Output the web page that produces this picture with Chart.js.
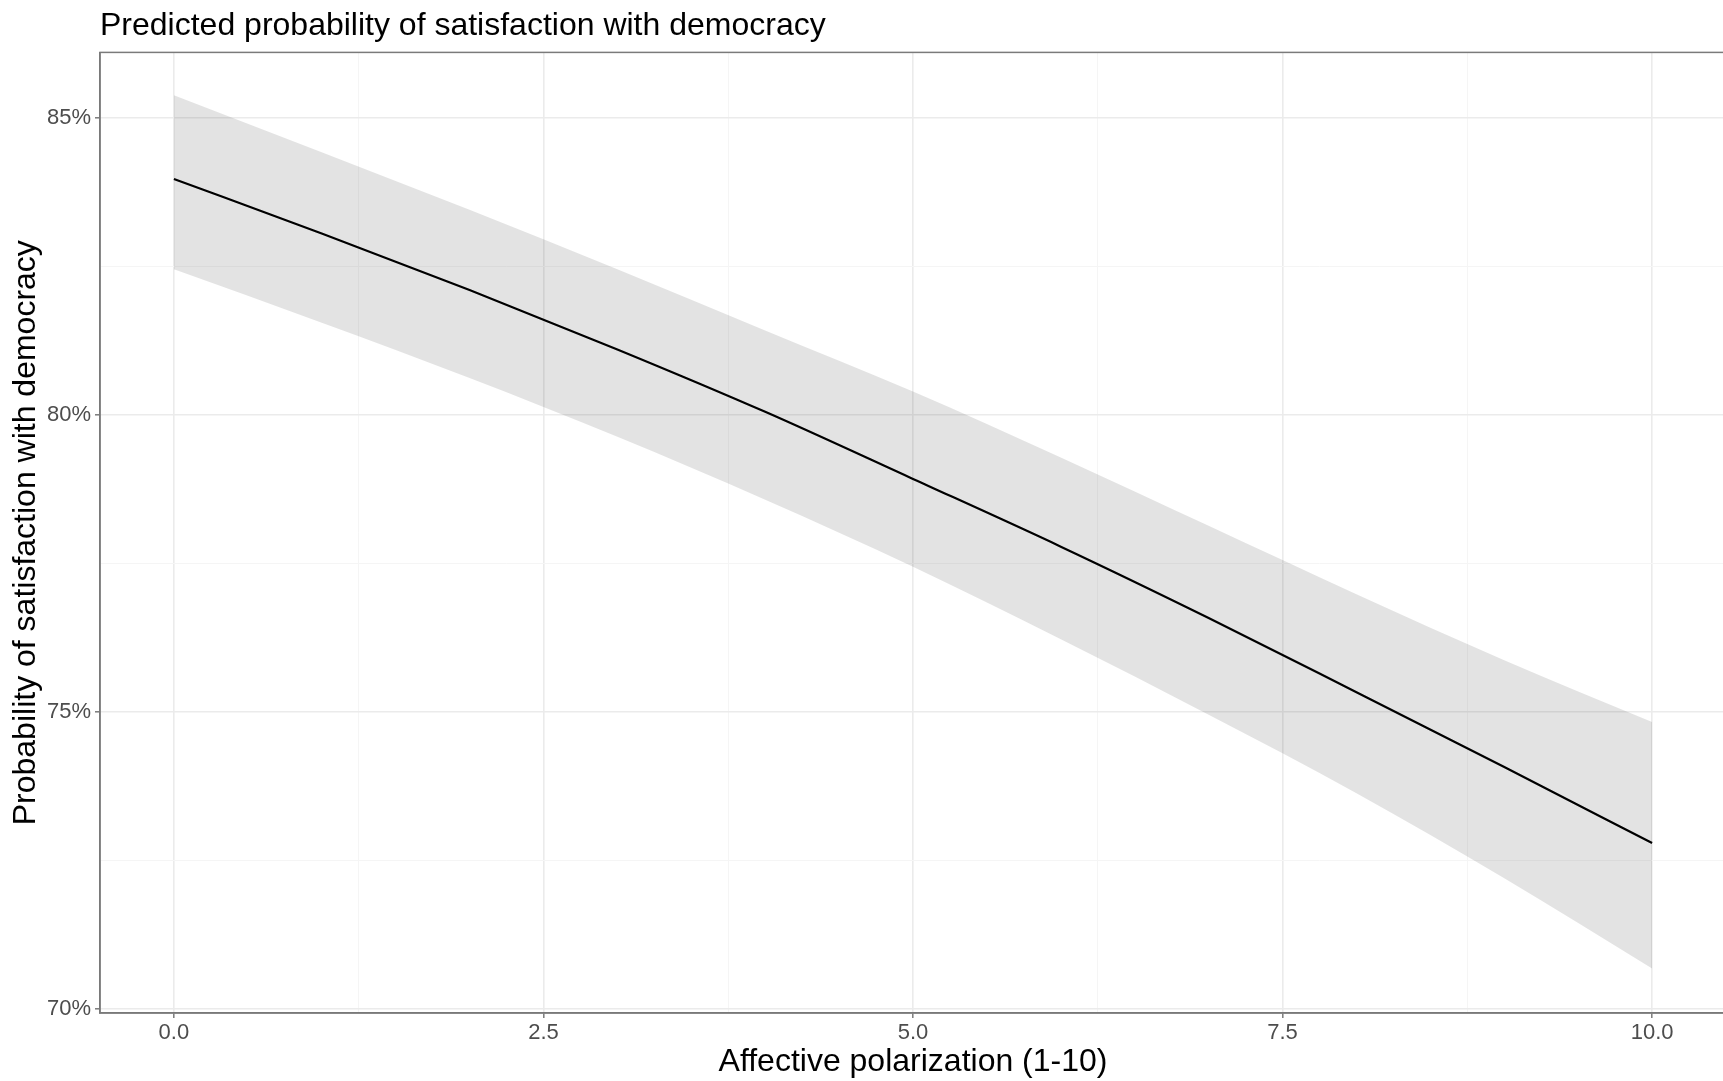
<!DOCTYPE html>
<html>
<head>
<meta charset="utf-8">
<script src="https://cdn.jsdelivr.net/npm/chart.js@4.4.1/dist/chart.umd.min.js"></script>
<style>
  html, body { margin: 0; padding: 0; background: #fff; overflow: hidden; }
</style>
</head>
<body>
<canvas id="chart" width="1726" height="1081"></canvas>
<script>
// predicted probability (%) by affective polarization
const xValues = [0, 1, 2, 3, 4, 5, 6, 7, 8, 9, 10];
const fitValues = [83.97, 83.05, 82.10, 81.10, 80.05, 78.92, 77.78, 76.58, 75.33, 74.07, 72.79];
const upperValues = [85.38, 84.42, 83.45, 82.45, 81.42, 80.39, 79.28, 78.13, 76.98, 75.87, 74.83];
const lowerValues = [82.45, 81.55, 80.62, 79.63, 78.57, 77.44, 76.22, 74.95, 73.63, 72.20, 70.68];

const xTicks = [0, 2.5, 5, 7.5, 10];
const xTickLabels = ['0.0', '2.5', '5.0', '7.5', '10.0'];
const xMinor = [1.25, 3.75, 6.25, 8.75];
const yTicks = [70, 75, 80, 85];
const yTickLabels = ['70%', '75%', '80%', '85%'];
const yMinor = [72.5, 77.5, 82.5];

const FONT = 'Liberation Sans, Arial, Helvetica, sans-serif';
const AXIS = '#7a7a7a';

const toPoints = (ys) => xValues.map((x, i) => ({ x: x, y: ys[i] }));

function tickSetup(majors, minors) {
  return (axis) => {
    axis.ticks = majors.concat(minors).sort((a, b) => a - b).map(v => ({ value: v }));
  };
}

function gridOpts(majors) {
  return {
    color: c => majors.includes(c.tick.value) ? '#ebebeb' : '#f5f5f5',
    lineWidth: c => majors.includes(c.tick.value) ? 1.6 : 1,
    tickColor: c => majors.includes(c.tick.value) ? AXIS : 'rgba(0,0,0,0)',
    tickLength: 5,
    tickWidth: 1.5
  };
}

// box round the panel
const panelBorder = {
  id: 'panelBorder',
  afterDraw(chart) {
    const a = chart.chartArea;
    const ctx = chart.ctx;
    ctx.save();
    ctx.strokeStyle = AXIS;
    ctx.lineWidth = 1.5;
    ctx.strokeRect(a.left, a.top, a.right - a.left, a.bottom - a.top);
    ctx.restore();
  }
};

const ctx = document.getElementById('chart').getContext('2d');
new Chart(ctx, {
  type: 'line',
  data: {
    datasets: [
      {
        label: 'upper',
        data: toPoints(upperValues),
        borderWidth: 0,
        pointRadius: 0,
        fill: '+1',
        backgroundColor: 'rgba(0,0,0,0.11)'
      },
      {
        label: 'lower',
        data: toPoints(lowerValues),
        borderWidth: 0,
        pointRadius: 0,
        fill: false
      },
      {
        label: 'predicted',
        data: toPoints(fitValues),
        borderColor: '#000',
        borderWidth: 2.2,
        pointRadius: 0,
        fill: false
      }
    ]
  },
  options: {
    responsive: false,
    animation: false,
    layout: { padding: 0 },
    elements: { line: { cubicInterpolationMode: 'monotone' } },
    plugins: {
      legend: { display: false },
      tooltip: { enabled: false },
      title: {
        display: true,
        text: 'Predicted probability of satisfaction with democracy',
        align: 'start',
        fullSize: false,
        color: '#000',
        font: { family: FONT, size: 32, weight: 'normal' },
        padding: { top: 7, bottom: 7 }
      }
    },
    scales: {
      x: {
        type: 'linear',
        min: -0.5,
        max: 10.5,
        afterBuildTicks: tickSetup(xTicks, xMinor),
        afterFit: s => { s.height = 68; },
        grid: gridOpts(xTicks),
        border: { color: AXIS, width: 1.5 },
        ticks: {
          autoSkip: false,
          maxRotation: 0,
          color: '#4d4d4d',
          padding: 2,
          font: { family: FONT, size: 22 },
          callback: v => {
            const i = xTicks.indexOf(v);
            return i >= 0 ? xTickLabels[i] : '';
          }
        },
        title: {
          display: true,
          text: 'Affective polarization (1-10)',
          color: '#000',
          font: { family: FONT, size: 32 },
          padding: { top: 0, bottom: 0 }
        }
      },
      y: {
        type: 'linear',
        min: 69.93,
        max: 86.1,
        afterBuildTicks: tickSetup(yTicks, yMinor),
        afterFit: s => { s.width = 100; },
        grid: gridOpts(yTicks),
        border: { color: AXIS, width: 1.5 },
        ticks: {
          autoSkip: false,
          color: '#4d4d4d',
          padding: 4,
          font: { family: FONT, size: 22 },
          callback: v => {
            const i = yTicks.indexOf(v);
            return i >= 0 ? yTickLabels[i] : '';
          }
        },
        title: {
          display: true,
          text: 'Probability of satisfaction with democracy',
          color: '#000',
          font: { family: FONT, size: 32 },
          padding: { top: 7, bottom: 0 }
        }
      }
    }
  },
  plugins: [panelBorder]
});
</script>
</body>
</html>
